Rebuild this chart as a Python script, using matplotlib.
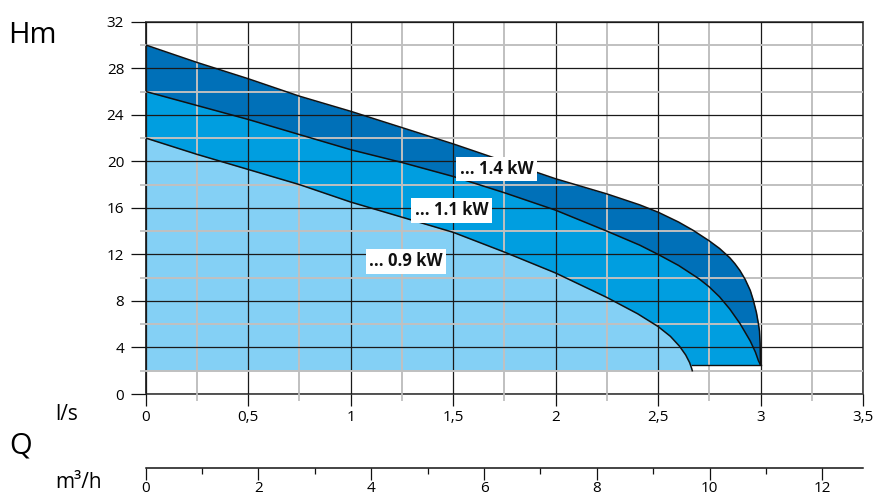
import matplotlib
matplotlib.use("Agg")
import matplotlib.pyplot as plt
import numpy as np

plt.rcParams['font.family'] = ['Open Sans', 'DejaVu Sans']

# pump curves: flow in l/s, head in m
flow_14 = [0, 0.25, 0.5, 0.75, 1.0, 1.25, 1.5, 1.75, 2.0, 2.25, 2.41, 2.5, 2.6, 2.67,
           2.75, 2.8, 2.85, 2.875, 2.9, 2.925, 2.95, 2.965, 2.98, 2.99, 2.995, 2.998, 3.0]
head_14 = [30, 28.5, 27.1, 25.6, 24.3, 22.9, 21.5, 20.0, 18.5, 17.2, 16.26, 15.63, 14.78, 14.08,
           13.16, 12.51, 11.71, 11.2, 10.6, 9.85, 8.9, 8.05, 7.0, 6.0, 5.4, 4.3, 2.5]

flow_11 = [0, 0.25, 0.5, 0.75, 1.0, 1.25, 1.5, 1.75, 2.0, 2.25, 2.41, 2.5, 2.6, 2.7,
           2.75, 2.8, 2.85, 2.9, 2.95, 2.975, 2.99, 3.0]
head_11 = [26, 24.8, 23.6, 22.3, 21.0, 19.9, 18.7, 17.3, 15.8, 14.0, 12.8, 12.0, 11.05, 9.9,
           9.2, 8.35, 7.3, 6.05, 4.55, 3.6, 2.85, 2.5]

flow_09 = [0, 0.25, 0.5, 0.75, 1.0, 1.25, 1.5, 1.75, 2.0, 2.25, 2.4, 2.5, 2.56, 2.605,
           2.635, 2.654, 2.664, 2.667]
head_09 = [22, 20.6, 19.3, 18.0, 16.5, 15.2, 13.9, 12.2, 10.4, 8.3, 6.9, 5.8, 4.96, 4.1,
           3.35, 2.7, 2.2, 2.0]

base_low = 2.0    # bottom of the 0.9 kW area
base_high = 2.5   # bottom of the 1.1 / 1.4 kW areas

labels = ['... 1.4 kW', '... 1.1 kW', '... 0.9 kW']
label_pos = [(1.711, 19.33), (1.492, 15.78), (1.271, 11.41)]

x_ticks = [0, 0.5, 1, 1.5, 2, 2.5, 3, 3.5]
x_ticklabels = ['0', '0,5', '1', '1,5', '2', '2,5', '3', '3,5']
y_ticks = list(range(0, 33, 4))
m3h_ticks = list(range(0, 13, 2))

dark = '#0070b8'
mid = '#009ee0'
light = '#84d0f5'

W, H = 873, 495
fig = plt.figure(figsize=(W / 100, H / 100), dpi=100)
left, right, top, bottom = 145.7, 863, 21.7, 394
ax = fig.add_axes([left / W, 1 - bottom / H, (right - left) / W, (bottom - top) / H])

ax.fill_between(flow_14, base_high, head_14, color=dark, lw=0, zorder=1)
ax.fill_between(flow_11, base_high, head_11, color=mid, lw=0, zorder=1.1)
ax.fill_between(flow_09, base_low, head_09, color=light, lw=0, zorder=1.2)

for q, h in [(flow_14, head_14), (flow_11, head_11), (flow_09, head_09)]:
    ax.plot(q, h, color='#111111', lw=1.1, zorder=3, solid_joinstyle='round')
ax.plot([flow_09[-1], flow_11[-1]], [base_high, base_high], color='#111111', lw=1.0, zorder=3)

ax.set_xlim(0, 3.5)
ax.set_ylim(0, 32)
ax.set_xticks(x_ticks)
ax.set_xticklabels(x_ticklabels)
ax.set_xticks(np.arange(0.25, 3.5, 0.5), minor=True)
ax.set_yticks(y_ticks)
ax.set_yticks(np.arange(2, 32, 4), minor=True)

ax.set_axisbelow(False)
ax.grid(which='major', color='#1a1a1a', lw=0.9, zorder=2.5)
ax.grid(which='minor', color='#c0c0c0', lw=1.4, zorder=2.4)

ax.tick_params(axis='x', which='major', length=8.5, width=0.9, color='#111111',
               labelsize=11, pad=3)
ax.tick_params(axis='x', which='minor', length=5, width=1.3, color='#c0c0c0')
ax.tick_params(axis='y', which='major', length=10.5, width=0.9, color='#111111',
               labelsize=11, pad=5)
ax.tick_params(axis='y', which='minor', length=4, width=1.3, color='#c0c0c0')

ax.spines['left'].set_color('#111111')
ax.spines['left'].set_linewidth(1.2)
for s in ['top', 'right', 'bottom']:
    ax.spines[s].set_color('#555555')
    ax.spines[s].set_linewidth(1.4)

for txt, (qx, hy) in zip(labels, label_pos):
    ax.text(qx, hy, txt, fontsize=12, fontweight='bold', ha='center', va='center',
            color='#111111', zorder=5,
            bbox=dict(boxstyle='square,pad=0.2', fc='white', ec='none'))

# second flow scale in m3/h
ax2 = fig.add_axes([left / W, 1 - 467.7 / H, (right - left) / W, 0.0001])
ax2.set_facecolor('none')
for s in ['top', 'left', 'right']:
    ax2.spines[s].set_visible(False)
ax2.spines['bottom'].set_color('#111111')
ax2.spines['bottom'].set_linewidth(1.1)
ax2.set_xlim(0, 12.72)
ax2.set_yticks([])
ax2.set_xticks(m3h_ticks)
ax2.set_xticks(np.arange(1, 13, 2), minor=True)
ax2.tick_params(axis='x', which='major', length=8.5, width=0.9, color='#111111',
                labelsize=11, pad=1)
ax2.tick_params(axis='x', which='minor', length=4.5, width=0.9, color='#111111')

fig.text(8 / W, 1 - 43 / H, 'Hm', fontsize=21, ha='left', va='baseline')
fig.text(9 / W, 1 - 454 / H, 'Q', fontsize=21, ha='left', va='baseline')
fig.text(55 / W, 1 - 420 / H, 'l/s', fontsize=15, ha='left', va='baseline')
fig.text(55 / W, 1 - 488 / H, 'm³/h', fontsize=15, ha='left', va='baseline')

fig.savefig('out.png', dpi=100)
